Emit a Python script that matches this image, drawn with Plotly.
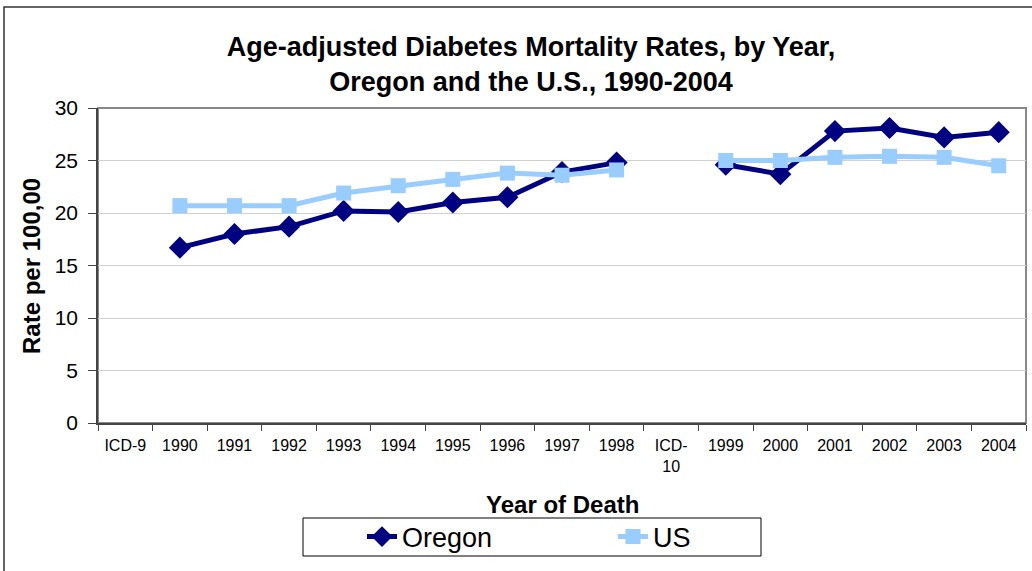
import plotly.graph_objects as go

categories = ["ICD-9", "1990", "1991", "1992", "1993", "1994", "1995", "1996", "1997", "1998",
              "ICD-<br>10", "1999", "2000", "2001", "2002", "2003", "2004"]
oregon = [None, 16.7, 18.0, 18.7, 20.2, 20.1, 21.0, 21.5, 23.9, 24.8,
          None, 24.6, 23.7, 27.8, 28.1, 27.2, 27.7]
us = [None, 20.7, 20.7, 20.7, 21.9, 22.6, 23.2, 23.8, 23.6, 24.1,
      None, 25.0, 25.0, 25.3, 25.4, 25.3, 24.5]
y_ticks = [0, 5, 10, 15, 20, 25, 30]

FONT = "Liberation Sans, Arial, sans-serif"
L, R, T, B = 98, 6, 108, 148
W, H = 1032, 571
pw, ph = W - L - R, H - T - B

def px2x(px):
    return (px - L) / pw

def py2y(py):
    return (H - B - py) / ph

fig = go.Figure()
fig.add_trace(go.Scatter(x=categories, y=oregon, name="Oregon", mode="lines+markers",
                         line=dict(color="#000080", width=5),
                         marker=dict(symbol="diamond", size=17, color="#000080")))
fig.add_trace(go.Scatter(x=categories, y=us, name="US", mode="lines+markers",
                         line=dict(color="#99CCFF", width=5),
                         marker=dict(symbol="square", size=15, color="#99CCFF")))

fig.update_layout(
    width=W, height=H,
    margin=dict(l=L, r=R, t=T, b=B, autoexpand=False),
    paper_bgcolor="white", plot_bgcolor="white",
    font=dict(family=FONT, color="black"),
    title=dict(text="<b>Age-adjusted Diabetes Mortality Rates, by Year,<br>Oregon and the U.S., 1990-2004</b>",
               x=531 / W, xanchor="center", y=1 - 56 / H, yanchor="middle",
               yref="container", xref="container",
               font=dict(size=27, family=FONT)),
    showlegend=True,
    legend=dict(orientation="h", x=px2x(362), xanchor="left", y=py2y(537), yanchor="middle",
                borderwidth=0, font=dict(size=27, family=FONT),
                entrywidth=206, entrywidthmode="pixels", bgcolor="rgba(0,0,0,0)"),
)
fig.update_xaxes(type="category", categoryorder="array", categoryarray=categories,
                 range=[-0.5, len(categories) - 0.5],
                 tickson="boundaries", ticks="outside", ticklen=6, tickcolor="#444",
                 showline=True, linecolor="#444", linewidth=1.5, showgrid=False,
                 tickfont=dict(size=16, family=FONT), automargin=False, tickangle=0,
                 ticklabelstandoff=7)
fig.update_yaxes(range=[0, 30], tickvals=y_ticks, ticks="outside", ticklen=8, tickcolor="#444",
                 showline=True, linecolor="#444", linewidth=1.5,
                 showgrid=True, gridcolor="#D0D0D0", gridwidth=1,
                 tickfont=dict(size=21, family=FONT), zeroline=False, automargin=False,
                 ticklabelstandoff=6)

# plot-area border (top and right, gray)
fig.add_shape(type="rect", xref="paper", yref="paper", x0=0, x1=1, y0=0, y1=1,
              line=dict(color="#888", width=2), layer="below")
# outer chart border
fig.add_shape(type="rect", xref="paper", yref="paper",
              x0=px2x(4), x1=px2x(1045), y0=py2y(590), y1=py2y(7),
              line=dict(color="#333", width=1.5))
# legend box
fig.add_shape(type="rect", xref="paper", yref="paper",
              x0=px2x(303), x1=px2x(761), y0=py2y(556), y1=py2y(518),
              line=dict(color="black", width=1), layer="below")

fig.add_annotation(text="<b>Year of Death</b>", xref="paper", yref="paper",
                   x=px2x(562), y=py2y(504), xanchor="center", yanchor="middle",
                   showarrow=False, font=dict(size=24, family=FONT))
fig.add_annotation(text="<b>Rate per 100,00</b>", xref="paper", yref="paper",
                   x=px2x(31), y=py2y(266), xanchor="center", yanchor="middle",
                   showarrow=False, textangle=-90, font=dict(size=24, family=FONT))

fig.write_html("out.html", config={"displayModeBar": False},
               post_script="document.body.style.margin='0';document.body.style.overflow='hidden';")
